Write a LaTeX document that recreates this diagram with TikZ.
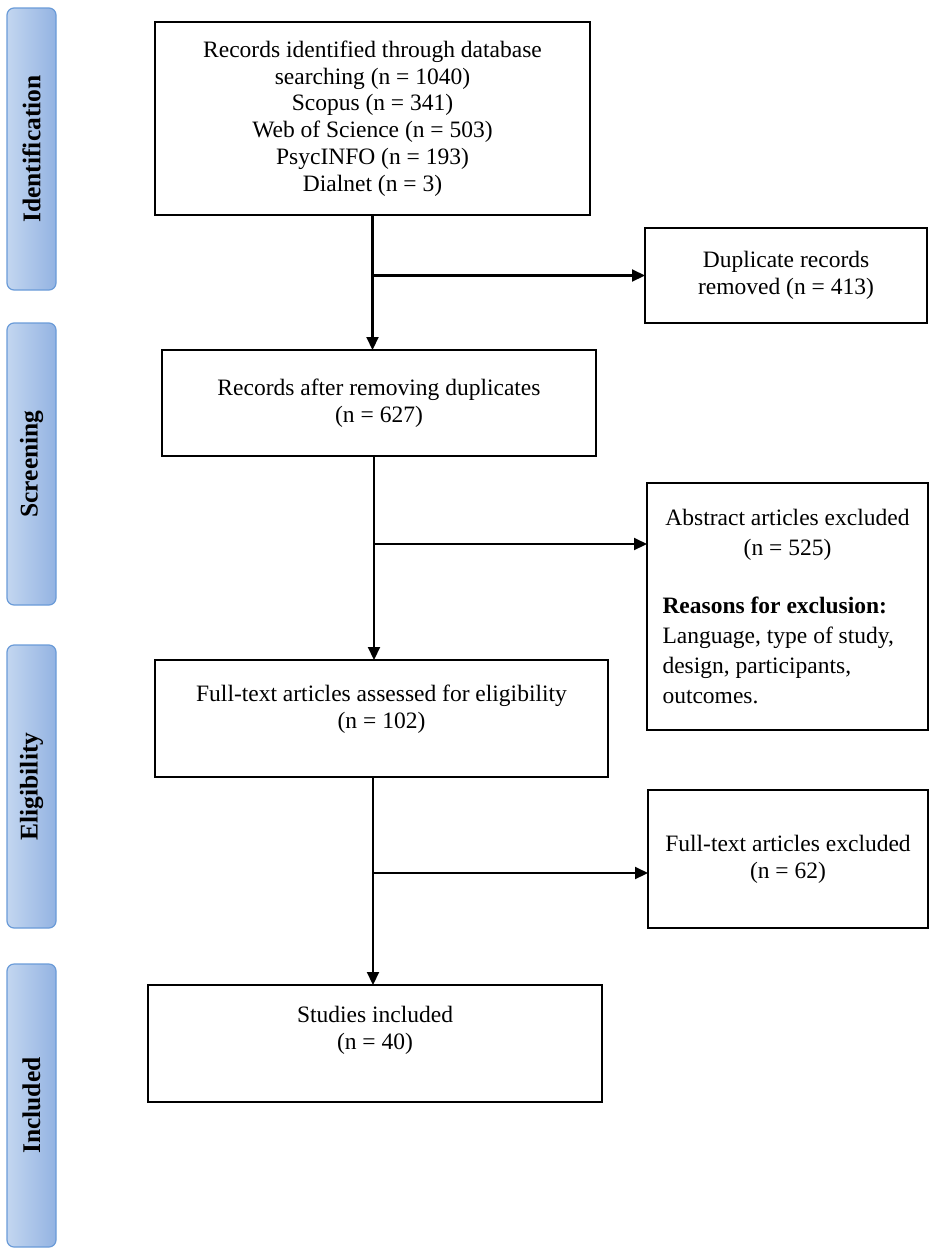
\documentclass[tikz,border=0pt]{standalone}
\usepackage{fontspec}
\setmainfont{Liberation Serif}
\usetikzlibrary{arrows.meta}
\definecolor{barL}{HTML}{C3D6F0}
\definecolor{barR}{HTML}{93B3E2}
\definecolor{barB}{HTML}{6A9BD8}
\tikzset{
  box/.style={draw=black, line width=2.1pt, inner sep=0pt, outer sep=0pt},
  txt/.style={inner sep=0pt, align=center, font=\fontsize{23.5}{26.8}\selectfont},
  bar/.style={draw=barB, line width=1.2pt, rounded corners=7pt, left color=barL, right color=barR},
  barlabel/.style={rotate=90, font=\bfseries\fontsize{25.5}{30}\selectfont, text=black},
  flow/.style={line width=2.1pt, -{Triangle[length=13pt,width=12pt]}}
}
\begin{document}
\begin{tikzpicture}[x=1pt,y=-1pt]
\useasboundingbox (0,0) rectangle (935,1251);
% side bars
\draw[bar] (7,8) rectangle (56,290);
\node[barlabel] (lid) at (31.5,149) {Identification};
\draw[bar] (7,323) rectangle (56,605);
\node[barlabel] (lsc) at (31.5,464) {Screening};
\draw[bar] (7,645) rectangle (56,928);
\node[barlabel] (lel) at (31.5,786.5) {Eligibility};
\draw[bar] (7,964) rectangle (56,1247);
\node[barlabel] (lin) at (31.5,1105.5) {Included};
% boxes
\node[box, minimum width=435pt, minimum height=193pt] (b1) at (372.5,118.5) {};
\node[txt] (b1t) at (b1.center)
  {Records identified through database\\searching (n = 1040)\\Scopus (n = 341)\\Web of Science (n = 503)\\PsycINFO (n = 193)\\Dialnet (n = 3)};
\node[box, minimum width=282pt, minimum height=95pt] (dup) at (786,275.5) {};
\node[txt] (dupt) at (dup.center) {Duplicate records\\removed (n = 413)};
\node[box, minimum width=434pt, minimum height=106pt] (b2) at (379,403) {};
\node[txt] (b2t) at (b2.center) {Records after removing duplicates\\(n = 627)};
\node[box, minimum width=281pt, minimum height=247pt] (abs) at (787.5,606.5) {};
\node[txt, text width=250pt, align=none, font=\fontsize{23.5}{30}\selectfont] (abst) at (abs.center)
  {\centering Abstract articles excluded\\(n = 525)\par\vspace{28pt}\raggedright\textbf{Reasons for exclusion:}\\Language, type of study,\\design, participants,\\outcomes.\par};
\node[box, minimum width=453pt, minimum height=117pt] (b3) at (381.5,718.5) {};
\node[txt] (b3t) at ([yshift=9pt]b3.center) {Full-text articles assessed for eligibility\\(n = 102)};
\node[box, minimum width=280pt, minimum height=138pt] (fte) at (788,859) {};
\node[txt] (ftet) at (fte.center) {Full-text articles excluded\\(n = 62)};
\node[box, minimum width=454pt, minimum height=117pt] (b4) at (375,1043.5) {};
\node[txt] (b4t) at ([yshift=13pt]b4.center) {Studies included\\(n = 40)};
% connectors
\draw[flow] (b1.south) -- (b1.south |- b2.north);
\coordinate (j1) at (b1.south |- dup.west);
\draw[flow] (j1) -- (dup.west);
\coordinate (s2) at ([xshift=-5pt]b2.south);
\draw[flow] (s2) -- (s2 |- b3.north);
\coordinate (t2) at ([yshift=62.5pt]abs.west);
\coordinate (j2) at (s2 |- t2);
\draw[flow] (j2) -- (t2);
\coordinate (s3) at ([xshift=-8.5pt]b3.south);
\draw[flow] (s3) -- (s3 |- b4.north);
\coordinate (t3) at ([yshift=-14pt]fte.west);
\coordinate (j3) at (s3 |- t3);
\draw[flow] (j3) -- (t3);
\end{tikzpicture}
\end{document}
